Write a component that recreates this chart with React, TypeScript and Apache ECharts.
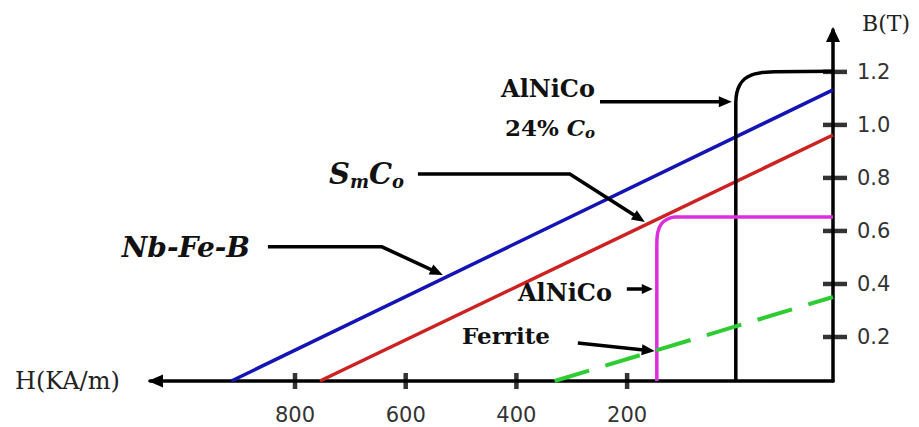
import React, { useEffect, useRef } from "react";
import * as echarts from "echarts";

// ---- axis ranges (H in kA/m grows to the left, B in tesla) ----
const X_MIN = -172;
const X_MAX = 1062;
const Y_MIN = 0.034;
const Y_MAX = 1.358;

// ---- tick labels ----
const xTickValues = [800, 600, 400, 200];
const yTickValues = [0.2, 0.4, 0.6, 0.8, 1.0, 1.2];

// ---- demagnetisation curves [H, B] ----
const nbFeB = [
  [915, 0.034],
  [-172, 1.132],
];
const smCo = [
  [755, 0.034],
  [-172, 0.962],
];
const alnico24 = [
  [3.6, 0.034],
  [3.6, 1.083],
  [1.8, 1.121],
  [-3.6, 1.151],
  [-12.6, 1.174],
  [-25.3, 1.189],
  [-39.7, 1.196],
  [-57.8, 1.2],
  [-172, 1.202],
];
const alnico = [
  [146.3, 0.034],
  [146.3, 0.547],
  [144.5, 0.596],
  [138.2, 0.626],
  [128.4, 0.643],
  [113.8, 0.653],
  [-172, 0.653],
];
const ferrite = [
  [331, 0.034],
  [-172, 0.351],
];

// ---- annotation arrows (anchor points in data space; last point = tip) ----
const arrowSmCo = [
  [578, 0.815],
  [303.5, 0.815],
  [168, 0.634],
];
const arrowNbFeB = [
  [849, 0.54],
  [643, 0.54],
  [533, 0.434],
];
const arrowAlnico24 = [
  [249, 1.087],
  [10.8, 1.087],
];
const arrowAlnico = [
  [200.5, 0.381],
  [153.6, 0.381],
];
const arrowFerrite = [
  [289, 0.177],
  [150, 0.147],
];

const SERIF = '"DejaVu Serif", "Liberation Serif", serif';
const SANS = '"DejaVu Sans", "Liberation Sans", sans-serif';

function curve(name: string, data: number[][], color: string, extra: any = {}) {
  return {
    type: "line",
    name,
    data,
    symbol: "none",
    clip: false,
    silent: true,
    z: 3,
    lineStyle: { color, width: 3.5, cap: "butt", ...(extra.lineStyle || {}) },
    ...(extra.smooth !== undefined ? { smooth: extra.smooth } : {}),
  };
}

export default function App() {
  const ref = useRef<HTMLDivElement>(null);

  useEffect(() => {
    document.body.style.margin = "0";
    if (!ref.current) return;
    const chart = echarts.init(ref.current, undefined, { renderer: "svg" });

    const option: any = {
      animation: false,
      backgroundColor: "#ffffff",
      grid: { left: 150, right: 86, top: 30, bottom: 46, containLabel: false, outerBoundsMode: "none" },
      xAxis: {
        type: "value",
        inverse: true,
        min: X_MIN,
        max: X_MAX,
        axisLine: { show: true, onZero: false, lineStyle: { color: "#000", width: 3.5 } },
        axisTick: { show: false },
        splitLine: { show: false },
        axisLabel: {
          customValues: xTickValues,
          margin: 23,
          color: "#333",
          fontSize: 21,
          fontFamily: SANS,
        },
      },
      yAxis: {
        type: "value",
        position: "right",
        min: Y_MIN,
        max: Y_MAX,
        axisLine: { show: true, onZero: false, lineStyle: { color: "#000", width: 3.5 } },
        axisTick: { show: false },
        splitLine: { show: false },
        axisLabel: {
          customValues: yTickValues,
          formatter: (v: number) => v.toFixed(1),
          margin: 24,
          color: "#333",
          fontSize: 21,
          fontFamily: SANS,
        },
      },
      series: [
        curve("Nb-Fe-B", nbFeB, "#1414b4"),
        curve("SmCo", smCo, "#cc2222"),
        curve("AlNiCo 24% Co", alnico24, "#000000", { smooth: 0.3 }),
        curve("AlNiCo", alnico, "#dd2edd", { smooth: 0.3 }),
        curve("Ferrite", ferrite, "#2ecc33", { lineStyle: { type: [36, 17], width: 4 } }),
        {
          type: "scatter",
          data: xTickValues.map((v) => [v, Y_MIN]),
          symbol: "rect",
          symbolSize: [4.5, 16],
          itemStyle: { color: "#000" },
          clip: false,
          silent: true,
          z: 6,
        },
        {
          type: "scatter",
          data: yTickValues.map((v) => [X_MIN, v]),
          symbol: "rect",
          symbolSize: [24, 4.5],
          symbolOffset: [2, 0],
          itemStyle: { color: "#000" },
          clip: false,
          silent: true,
          z: 6,
        },
      ],
    };
    chart.setOption(option);

    const toPx = (p: number[]) => chart.convertToPixel({ gridIndex: 0 }, p) as number[];

    const arrow = (pts: number[][], headLen = 13, headW = 11, lw = 3.5) => {
      const px = pts.map(toPx);
      const tip = px[px.length - 1];
      const prev = px[px.length - 2];
      const dx = tip[0] - prev[0];
      const dy = tip[1] - prev[1];
      const len = Math.hypot(dx, dy) || 1;
      const ux = dx / len;
      const uy = dy / len;
      const nx = -uy;
      const ny = ux;
      const bx = tip[0] - ux * headLen;
      const by = tip[1] - uy * headLen;
      const shaft = [...px.slice(0, -1), [bx + ux * 2, by + uy * 2]];
      return [
        {
          type: "polyline",
          shape: { points: shaft },
          style: { stroke: "#000", lineWidth: lw, fill: "none", lineJoin: "miter" },
          z: 100,
          silent: true,
        },
        {
          type: "polygon",
          shape: {
            points: [
              tip,
              [bx + (nx * headW) / 2, by + (ny * headW) / 2],
              [bx - (nx * headW) / 2, by - (ny * headW) / 2],
            ],
          },
          style: { fill: "#000" },
          z: 100,
          silent: true,
        },
      ];
    };

    // axis arrowheads
    const xEnd = toPx([X_MAX, Y_MIN]);
    const yEnd = toPx([X_MIN, Y_MAX]);
    const axisHeads = [
      {
        type: "polygon",
        shape: {
          points: [
            [xEnd[0] - 2, xEnd[1]],
            [xEnd[0] + 13, xEnd[1] - 6.5],
            [xEnd[0] + 13, xEnd[1] + 6.5],
          ],
        },
        style: { fill: "#000" },
        z: 100,
      },
      {
        type: "polygon",
        shape: {
          points: [
            [yEnd[0], yEnd[1] - 3],
            [yEnd[0] - 7, yEnd[1] + 12],
            [yEnd[0] + 7, yEnd[1] + 12],
          ],
        },
        style: { fill: "#000" },
        z: 100,
      },
    ];

    const bold = { fontFamily: SERIF, fontWeight: "bold", fill: "#111" };
    const subRich = {
      b: { fontFamily: SERIF, fontWeight: "bold", fontStyle: "italic", fontSize: 29, lineHeight: 32, fill: "#111" },
      s: {
        fontFamily: SERIF,
        fontWeight: "bold",
        fontStyle: "italic",
        fontSize: 18,
        padding: [14, 0, 0, 0],
        fill: "#111",
      },
      n: { fontFamily: SERIF, fontWeight: "bold", fontSize: 23, lineHeight: 32, fill: "#111" },
      c: { fontFamily: SERIF, fontWeight: "bold", fontStyle: "italic", fontSize: 23, lineHeight: 32, fill: "#111" },
      cs: {
        fontFamily: SERIF,
        fontWeight: "bold",
        fontStyle: "italic",
        fontSize: 15,
        padding: [12, 0, 0, 0],
        fill: "#111",
      },
    };

    const texts = [
      {
        type: "text",
        x: 15,
        y: 381,
        style: { text: "H(KA/m)", fontFamily: SERIF, fontSize: 24, fill: "#222", align: "left", verticalAlign: "middle" },
        z: 100,
      },
      {
        type: "text",
        x: 862,
        y: 23,
        style: { text: "B(T)", fontFamily: SERIF, fontSize: 22, fill: "#222", align: "left", verticalAlign: "middle" },
        z: 100,
      },
      {
        type: "text",
        x: 250,
        y: 247,
        style: {
          text: "Nb-Fe-B",
          ...bold,
          fontStyle: "italic",
          fontSize: 28,
          align: "right",
          verticalAlign: "middle",
        },
        z: 100,
      },
      {
        type: "text",
        x: 404,
        y: 174,
        style: { text: "{b|S}{s|m}{b|C}{s|o}", rich: subRich, align: "right", verticalAlign: "middle" },
        z: 100,
      },
      {
        type: "text",
        x: 548,
        y: 88,
        style: { text: "AlNiCo", ...bold, fontSize: 24, align: "center", verticalAlign: "middle" },
        z: 100,
      },
      {
        type: "text",
        x: 550,
        y: 127,
        style: { text: "{n|24% }{c|C}{cs|o}", rich: subRich, align: "center", verticalAlign: "middle" },
        z: 100,
      },
      {
        type: "text",
        x: 518,
        y: 292,
        style: { text: "AlNiCo", ...bold, fontSize: 24, align: "left", verticalAlign: "middle" },
        z: 100,
      },
      {
        type: "text",
        x: 462,
        y: 335,
        style: { text: "Ferrite", ...bold, fontSize: 23, align: "left", verticalAlign: "middle" },
        z: 100,
      },
    ];

    chart.setOption({
      graphic: [
        ...axisHeads,
        ...arrow(arrowSmCo),
        ...arrow(arrowNbFeB),
        ...arrow(arrowAlnico24),
        ...arrow(arrowAlnico, 11, 10),
        ...arrow(arrowFerrite),
        ...texts,
      ],
    });

    return () => chart.dispose();
  }, []);

  return (
    <div
      ref={ref}
      style={{ position: "fixed", left: 0, top: 0, width: 919, height: 427, background: "#fff" }}
    />
  );
}
